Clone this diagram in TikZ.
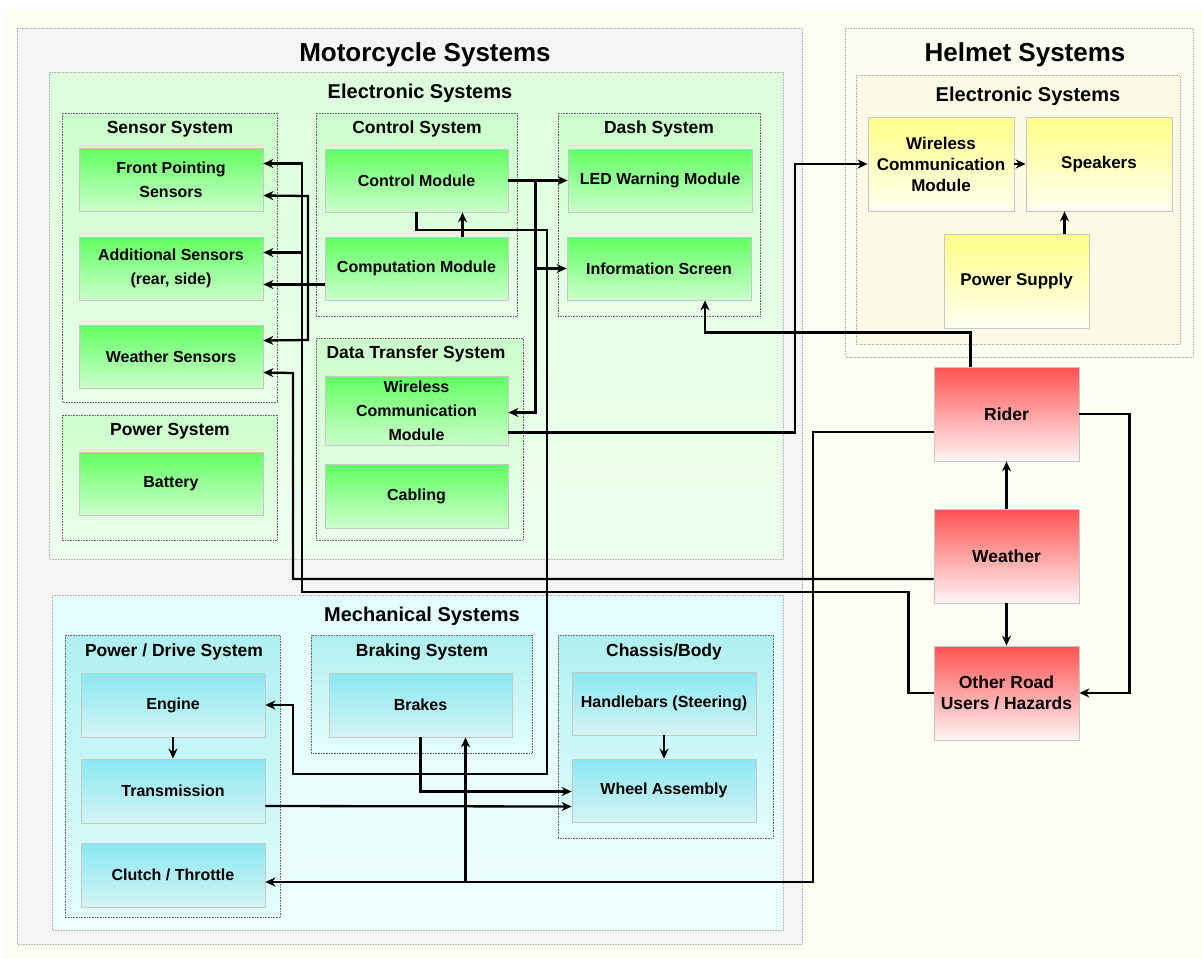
\documentclass[tikz,border=0pt]{standalone}
\usepackage{fontspec}
\setmainfont{Liberation Sans}
\usetikzlibrary{arrows.meta,positioning}

\definecolor{bgcream}{HTML}{FEFEF3}
\definecolor{motofill}{HTML}{F5F5F5}
\definecolor{elecA}{HTML}{DDFFDD}
\definecolor{elecB}{HTML}{EEFFEE}
\definecolor{ggrpA}{HTML}{CCFFCC}
\definecolor{ggrpB}{HTML}{EAFFEA}
\definecolor{grnA}{HTML}{62FF62}
\definecolor{grnB}{HTML}{CCFFCC}
\definecolor{mechA}{HTML}{E3FCFF}
\definecolor{mechB}{HTML}{EEFFFF}
\definecolor{cgrpA}{HTML}{B0F0F0}
\definecolor{cgrpB}{HTML}{E3FDFD}
\definecolor{cyA}{HTML}{8AE8F2}
\definecolor{cyB}{HTML}{D4F4F4}
\definecolor{helmfill}{HTML}{FCFCF0}
\definecolor{helecfill}{HTML}{FBFBE6}
\definecolor{ylA}{HTML}{FFFF88}
\definecolor{ylB}{HTML}{FFFFF2}
\definecolor{redA}{HTML}{FF5252}
\definecolor{redB}{HTML}{FFF5F5}

\tikzset{
  outerbox/.style={draw=black!30, densely dotted, line width=0.6pt},
  grpbox/.style={draw=black!60, densely dotted, line width=0.6pt},
  bigtitle/.style={font=\fontsize{26}{30}\selectfont\bfseries},
  midtitle/.style={font=\fontsize{20}{24}\selectfont\bfseries},
  grptitle/.style={font=\fontsize{17.5}{21}\selectfont\bfseries},
  basebox/.style={draw=black!22, line width=0.8pt, align=center, inner sep=0pt},
  grnnode/.style={basebox, top color=grnA, bottom color=grnB, minimum width=184pt, minimum height=63pt, font=\fontsize{16}{24}\selectfont\bfseries},
  cyannode/.style={basebox, top color=cyA, bottom color=cyB, minimum width=184pt, minimum height=64pt, font=\fontsize{16}{21}\selectfont\bfseries},
  ylwnode/.style={basebox, top color=ylA, bottom color=ylB, minimum width=146pt, minimum height=94pt, font=\fontsize{17}{21}\selectfont\bfseries},
  rednode/.style={basebox, top color=redA, bottom color=redB, minimum width=145pt, minimum height=94pt, font=\fontsize{17.5}{21}\selectfont\bfseries},
  link/.style={-{Stealth[length=10pt,width=9pt]}, line width=2.3pt},
}

\begin{document}
\begin{tikzpicture}[x=1pt, y=-1pt]
        \useasboundingbox (0,0) rectangle (1203,959);
        \fill[white] (0,0) rectangle (1203,959);
        \fill[bgcream] (5,10) rectangle (1203,959);

        % Motorcycle containers
        \draw[outerbox, fill=motofill] (17,28) rectangle (802,944);
        \node[bigtitle] (mototitle) at (425,55) {Motorcycle Systems};
        \draw[outerbox, top color=elecA, bottom color=elecB] (49,72) rectangle (783,559);
        \node[midtitle] (melectitle) at (420,93) {Electronic Systems};

        % Electronic groups
        \foreach \x/\y/\xx/\yy in {62/113/277/402, 62/415/277/540, 316/113/517/316, 316/338/523/540, 558/113/760/316}
            \draw[grpbox, top color=ggrpA, bottom color=ggrpB] (\x,\y) rectangle (\xx,\yy);
        \node[grptitle] (senstitle) at (170,129) {Sensor System};
        \node[grptitle] (powtitle) at (170,431) {Power System};
        \node[grptitle] (ctrltitle) at (417,129) {Control System};
        \node[grptitle] (datatitle) at (416,354) {Data Transfer System};
        \node[grptitle] (dashtitle) at (659,129) {Dash System};

        % Electronic components
        \node[grnnode] (front) at (171,179.5) {Front Pointing\\Sensors};
        \node[grnnode] (addl) at (171,268.5) {Additional Sensors\\(rear, side)};
        \node[grnnode] (wsens) at (171,356.5) {Weather Sensors};
        \node[grnnode] (battery) at (171,483.5) {Battery};
        \node[grnnode, minimum width=183pt] (ctrl) at (416.5,180.5) {Control Module};
        \node[grnnode, minimum width=183pt] (comp) at (416.5,268.5) {Computation Module};
        \node[grnnode, minimum width=183pt, minimum height=69pt] (mwcm) at (416.5,410.5) {Wireless\\Communication\\Module};
        \node[grnnode, minimum width=183pt, minimum height=64pt] (cabling) at (416.5,496) {Cabling};
        \node[grnnode] (led) at (660,180.5) {LED Warning Module};
        \node[grnnode] (info) at (659,268.5) {Information Screen};

        % Mechanical containers
        \draw[outerbox, top color=mechA, bottom color=mechB] (52,595) rectangle (783,930);
        \node[midtitle] (mechtitle) at (422,616) {Mechanical Systems};
        \foreach \x/\y/\xx/\yy in {65/635/280/917, 311/635/532/753, 558/635/773/838}
            \draw[grpbox, top color=cgrpA, bottom color=cgrpB] (\x,\y) rectangle (\xx,\yy);
        \node[grptitle] (drivetitle) at (174,652) {Power / Drive System};
        \node[grptitle] (braketitle) at (422,652) {Braking System};
        \node[grptitle] (chassistitle) at (664,652) {Chassis/Body};

        % Mechanical components
        \node[cyannode] (engine) at (173,705) {Engine};
        \node[cyannode] (trans) at (173,791) {Transmission};
        \node[cyannode] (clutch) at (173,875) {Clutch / Throttle};
        \node[cyannode, minimum width=183pt] (brakes) at (420.5,705) {Brakes};
        \node[cyannode, minimum height=63pt] (handle) at (664,703.5) {Handlebars (Steering)};
        \node[cyannode, minimum height=63pt] (wheel) at (664,790.5) {Wheel Assembly};

        % Helmet
        \draw[outerbox, fill=helmfill] (845,28) rectangle (1193,357);
        \node[bigtitle] (helmtitle) at (1025,55) {Helmet Systems};
        \draw[outerbox, fill=helecfill] (856,75) rectangle (1180,344);
        \node[midtitle] (helectitle) at (1028,96) {Electronic Systems};
        \node[ylwnode] (hwcm) at (941,164) {Wireless\\Communication\\Module};
        \node[ylwnode] (spk) at (1099,164) {Speakers};
        \node[ylwnode, minimum width=145pt] (psu) at (1016.5,281) {Power Supply};

        % External factors
        \node[rednode] (rider) at (1006.5,414) {Rider};
        \node[rednode] (weather) at (1006.5,556) {Weather};
        \node[rednode] (others) at (1006.5,693) {Other Road\\Users / Hazards};

        % Control module outputs
        \draw[link] (ctrl.east) -- (led.west);
        \draw[link] (ctrl.east) -- ++(27,0) |- (info.west);
        \draw[link] (ctrl.east) -- ++(27,0) |- ([yshift=-2pt]mwcm.east);
        \draw[link] ([xshift=46pt]comp.north) -- ([xshift=46pt]ctrl.south);
        \draw[link] (ctrl.south) |- (547,230) |- (293,774) |- (engine.east);

        % Computation to sensors
        \coordinate (compout) at ([yshift=-16pt]comp.west);
        \draw[link] (compout) -- (compout -| addl.east);
        \draw[link] (compout) -| (308,196) -- ([yshift=-16pt]front.east);
        \draw[link] (compout) -| (308,340) -- ([yshift=16pt]wsens.east);

        % Environment to sensors
        \draw[link] (others.west) -- ++(-25,0) |- (302,592) |- ([yshift=16pt]front.east);
        \draw[link] (others.west) -- ++(-25,0) |- (302,592) |- ([yshift=16pt]addl.east);
        \draw[link] ([yshift=-23pt]weather.west) -| (293,373) -- ([yshift=-16pt]wsens.east);

        % Wireless link to helmet
        \draw[link] ([yshift=-22pt]mwcm.east) -| (795,164) -- (hwcm.west);
        \draw[link] (hwcm.east) -- (spk.west);
        \draw[link] ([xshift=48pt]psu.north) -- ([xshift=48pt]psu.north |- spk.south);

        % External relations
        \draw[link] (weather.north) -- (rider.south);
        \draw[link] (weather.south) -- (others.north);
        \draw[link] (rider.east) -- ++(50,0) |- (others.east);
        \draw[link] ([xshift=-36pt]rider.north) -- ++(0,-34) -| ([xshift=46pt]info.south);
        \draw[link] ([yshift=-18pt]rider.west) -| (813,882) -- ([yshift=-7pt]clutch.east);
        \draw[link] ([yshift=-18pt]rider.west) -| (813,882) -| ([xshift=45pt]brakes.south);

        % Drive train
        \draw[link] (engine.south) -- (trans.north);
        \draw[link] ([yshift=-15pt]trans.east) -- ([yshift=-16pt]wheel.west);
        \draw[link] (brakes.south) |- ([yshift=-1pt]wheel.west);
        \draw[link] (handle.south) -- (wheel.north);
\end{tikzpicture}
\end{document}
